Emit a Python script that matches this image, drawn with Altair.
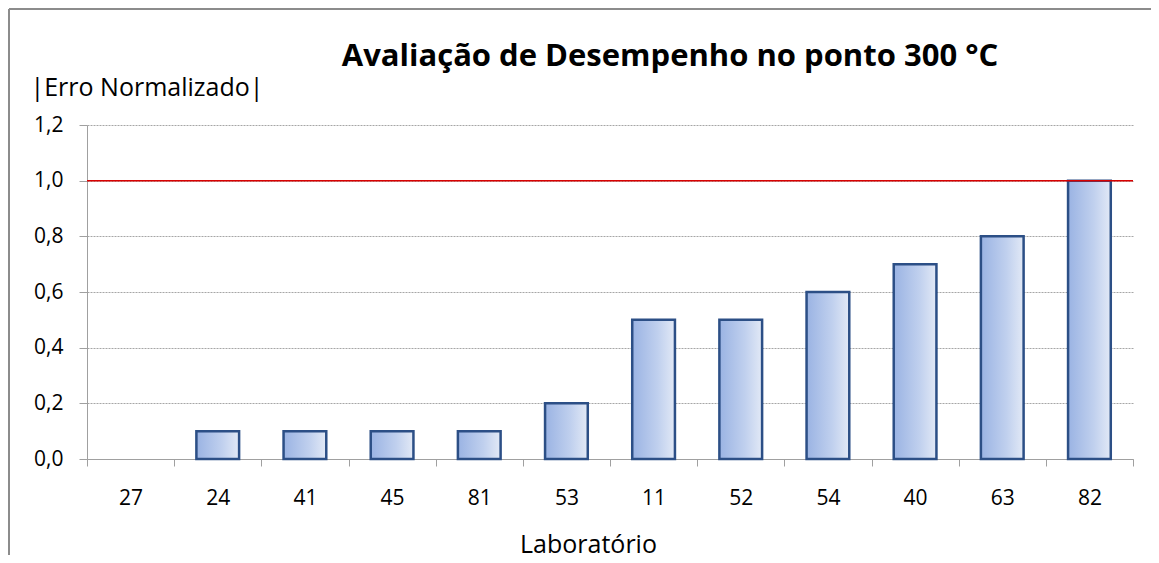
import altair as alt
import pandas as pd

labs = ["27", "24", "41", "45", "81", "53", "11", "52", "54", "40", "63", "82"]
vals = [0.0, 0.1, 0.1, 0.1, 0.1, 0.2, 0.5, 0.5, 0.6, 0.7, 0.8, 1.0]
y_ticks = [0.0, 0.2, 0.4, 0.6, 0.8, 1.0, 1.2]
limit = [1.0]
title_text = ["Avaliação de Desempenho no ponto 300 °C"]

df = pd.DataFrame({"lab": labs, "val": vals})
lim_df = pd.DataFrame({"limit": limit})
one = pd.DataFrame({"t": title_text})

FONT = "Open Sans"
W, H = 1046, 334
PL, PT, PR, PB = 79, 117, 18, 96

grad = alt.LinearGradient(
    gradient="linear",
    stops=[alt.GradientStop(color="#9ab3e3", offset=0),
           alt.GradientStop(color="#c0d0ee", offset=0.6),
           alt.GradientStop(color="#e2e9f6", offset=1)],
    x1=0, x2=1, y1=0, y2=0,
)

x_enc = alt.X(
    "lab:N", sort=labs,
    scale=alt.Scale(paddingInner=0, paddingOuter=0),
    axis=alt.Axis(title="Laboratório", labelAngle=0, tickBand="extent",
                  tickSize=7, tickColor="#a0a0a0", domainColor="#a0a0a0",
                  labelPadding=21, labelFontSize=21, labelColor="#000000",
                  titleFontSize=25, titleFontWeight="normal",
                  titleX=501, titleY=93, titleAlign="center",
                  titleBaseline="alphabetic",
                  titleColor="#000000", grid=False),
)
y_enc = alt.Y(
    "val:Q",
    scale=alt.Scale(domain=[0, 1.2], nice=False),
    axis=alt.Axis(values=y_ticks, title="|Erro Normalizado|",
                  labelExpr="replace(format(datum.value, '.1f'), '.', ',')",
                  tickSize=8, tickColor="#a0a0a0", domainColor="#a0a0a0",
                  labelPadding=16, labelFontSize=21, labelColor="#000000",
                  grid=True, gridColor="#a6a6a6", gridDash=[2, 1], gridWidth=1,
                  titleAngle=0, titleAlign="left", titleBaseline="alphabetic",
                  titleX=-57, titleY=-30, titleFontSize=25,
                  titleFontWeight="normal", titleColor="#000000"),
)

bars = alt.Chart(df).mark_bar(
    fill=grad, stroke="#2c4f86", strokeWidth=2.5,
    width=alt.RelativeBandSize(0.49),
).encode(
    x=x_enc, y=y_enc,
    opacity=alt.when(alt.datum.val > 0).then(alt.value(1)).otherwise(alt.value(0)),
)

red = alt.Chart(lim_df).mark_rule(color="#d90000", strokeWidth=1.5).encode(
    y=alt.Y("limit:Q")
)

frame_left = alt.Chart(one).mark_rule(color="#8c8c8c", strokeWidth=2).encode(
    x=alt.value(-78), y=alt.value(-116), y2=alt.value(H + PB)
)
frame_top = alt.Chart(one).mark_rule(color="#8c8c8c", strokeWidth=2).encode(
    x=alt.value(-78), x2=alt.value(W + PR), y=alt.value(-116)
)

title = alt.Chart(one).mark_text(
    font=FONT, fontSize=31, fontWeight="bold", color="#000000",
    align="center", baseline="alphabetic",
).encode(text="t:N", x=alt.value(583), y=alt.value(-59))

chart = alt.layer(bars, red, frame_left, frame_top, title).properties(
    width=W, height=H,
    autosize=alt.AutoSizeParams(type="none"),
    padding={"left": PL, "top": PT, "right": PR, "bottom": PB},
).configure(font=FONT).configure_view(stroke=None).configure_axis(
    labelFont=FONT, titleFont=FONT
)

chart.save("out.html", embed_options={"renderer": "svg", "actions": False})
